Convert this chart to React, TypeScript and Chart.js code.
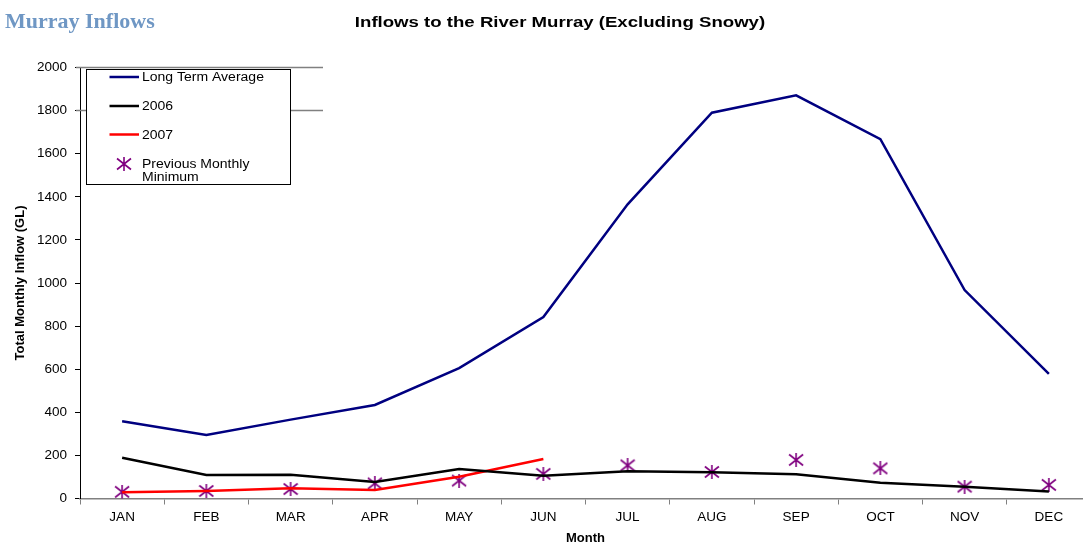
import { useEffect, useRef } from 'react';
import { Chart, registerables } from 'chart.js';

Chart.register(...registerables);

const months = ['JAN', 'FEB', 'MAR', 'APR', 'MAY', 'JUN', 'JUL', 'AUG', 'SEP', 'OCT', 'NOV', 'DEC'];
const longTermAverage = [358, 295, 366, 434, 605, 842, 1365, 1790, 1871, 1667, 967, 578];
const inflow2006 = [189, 109, 110, 77, 137, 106, 127, 122, 112, 73, 55, 33];
const inflow2007 = [29, 35, 47, 39, 101, 183, null, null, null, null, null, null];
const previousMinimum = [31, 35, 44, 70, 83, 114, 154, 123, 179, 140, 55, 63];
const partialGridValues = [2000, 1800];

const pageTitle = 'Murray Inflows';
const chartTitle = 'Inflows to the River Murray (Excluding Snowy)';
const legendLabels = ['Long Term Average', '2006', '2007', 'Previous Monthly', 'Minimum'];

const FONT = '"Liberation Sans", Arial, sans-serif';
const NAVY = '#000080';
const PURPLE = '#800080';

function makeStar(): HTMLCanvasElement {
  const c = document.createElement('canvas');
  c.width = 16;
  c.height = 14;
  const g = c.getContext('2d')!;
  g.strokeStyle = PURPLE;
  g.lineWidth = 1.6;
  g.beginPath();
  g.moveTo(8, 0);
  g.lineTo(8, 14);
  g.moveTo(1, 1.5);
  g.lineTo(15, 12.5);
  g.moveTo(1, 12.5);
  g.lineTo(15, 1.5);
  g.stroke();
  return c;
}

export default function App() {
  const ref = useRef<HTMLCanvasElement | null>(null);

  useEffect(() => {
    const canvas = ref.current;
    if (!canvas) return;
    const star = makeStar();

    const decor = {
      id: 'decor',
      beforeDatasetsDraw(chart: any) {
        const { ctx } = chart;
        const y = chart.scales.y;
        ctx.save();
        ctx.strokeStyle = '#808080';
        ctx.lineWidth = 1.5;
        for (const v of partialGridValues) {
          const py = y.getPixelForValue(v);
          ctx.beginPath();
          ctx.moveTo(76, py);
          ctx.lineTo(323, py);
          ctx.stroke();
        }
        ctx.restore();
      },
      afterDraw(chart: any) {
        const { ctx } = chart;
        ctx.save();
        // page header
        ctx.fillStyle = '#6f97c4';
        ctx.font = 'bold 22px "Liberation Serif", serif';
        ctx.textAlign = 'left';
        ctx.textBaseline = 'alphabetic';
        ctx.fillText(pageTitle, 5, 28);

        // chart title
        ctx.fillStyle = '#000';
        ctx.font = `bold 15.5px ${FONT}`;
        ctx.textAlign = 'center';
        ctx.save();
        ctx.translate(560, 27);
        ctx.scale(1.2, 1);
        ctx.fillText(chartTitle, 0, 0);
        ctx.restore();

        // legend box
        ctx.fillStyle = '#fff';
        ctx.fillRect(86.5, 69.5, 204, 115);
        ctx.strokeStyle = '#000';
        ctx.lineWidth = 1;
        ctx.strokeRect(86.5, 69.5, 204, 115);

        const lines = [
          { color: NAVY, y: 77 },
          { color: '#000', y: 106 },
          { color: '#ff0000', y: 134.5 },
        ];
        ctx.lineWidth = 2.5;
        lines.forEach((l) => {
          ctx.strokeStyle = l.color;
          ctx.beginPath();
          ctx.moveTo(109.5, l.y);
          ctx.lineTo(139, l.y);
          ctx.stroke();
        });
        ctx.drawImage(star, 124 - 8, 164 - 7);

        ctx.fillStyle = '#000';
        ctx.font = `12.5px ${FONT}`;
        ctx.textAlign = 'left';
        ctx.textBaseline = 'middle';
        const textY = [78, 107, 135.5, 165, 178];
        legendLabels.forEach((t, i) => {
          ctx.save();
          ctx.translate(142, textY[i]);
          ctx.scale(1.12, 1);
          ctx.fillText(t, 0, 0);
          ctx.restore();
        });
        ctx.restore();
      },
    };

    const chart = new Chart(canvas, {
      type: 'line',
      data: {
        labels: months,
        datasets: [
          {
            label: 'Long Term Average',
            data: longTermAverage,
            borderColor: NAVY,
            backgroundColor: NAVY,
            borderWidth: 2.5,
            pointRadius: 0,
            tension: 0,
          },
          {
            label: '2006',
            data: inflow2006,
            borderColor: '#000',
            backgroundColor: '#000',
            borderWidth: 2.5,
            pointRadius: 0,
            tension: 0,
          },
          {
            label: '2007',
            data: inflow2007,
            borderColor: '#ff0000',
            backgroundColor: '#ff0000',
            borderWidth: 2.5,
            pointRadius: 0,
            tension: 0,
          },
          {
            label: 'Previous Monthly Minimum',
            data: previousMinimum,
            showLine: false,
            borderColor: PURPLE,
            backgroundColor: PURPLE,
            pointStyle: star as any,
            pointRadius: 8,
            pointHoverRadius: 8,
          },
        ],
      },
      options: {
        animation: false,
        responsive: false,
        devicePixelRatio: 1,
        layout: { autoPadding: false, padding: { left: 0, right: 1, top: 67.5, bottom: 0 } },
        plugins: {
          legend: { display: false },
          title: { display: false },
          tooltip: { enabled: false },
        },
        scales: {
          x: {
            type: 'category',
            offset: true,
            grid: {
              display: true,
              offset: true,
              drawOnChartArea: false,
              drawTicks: true,
              tickLength: 6,
              color: '#808080',
              lineWidth: 1,
            },
            border: { display: true, color: '#808080', width: 1.5 },
            ticks: {
              color: '#000',
              font: { family: FONT, size: 13.5 },
              padding: 5,
              maxRotation: 0,
              autoSkip: false,
            },
            title: {
              display: true,
              text: 'Month',
              color: '#000',
              font: { family: FONT, size: 13, weight: 'bold' },
              padding: { top: 0, bottom: -3.5 },
            },
            afterFit(s: any) {
              s.height = 44.5;
              s.paddingLeft = 0;
              s.paddingRight = 0;
            },
          },
          y: {
            min: 0,
            max: 2000,
            grid: {
              display: true,
              drawOnChartArea: false,
              drawTicks: true,
              tickLength: 5,
              color: '#000',
              lineWidth: 1,
            },
            border: { display: true, color: '#000', width: 1 },
            ticks: {
              stepSize: 200,
              color: '#000',
              font: { family: FONT, size: 13.5 },
              padding: 8,
              callback: (v: any) => String(v),
            },
            title: {
              display: true,
              text: 'Total Monthly Inflow (GL)',
              color: '#000',
              font: { family: FONT, size: 13, weight: 'bold' },
              padding: { top: 12.2, bottom: 0 },
            },
            afterFit(s: any) {
              s.width = 80;
            },
          },
        },
      } as any,
      plugins: [decor],
    });

    return () => chart.destroy();
  }, []);

  return (
    <div
      style={{
        position: 'absolute',
        left: 0,
        top: 0,
        width: 1083,
        height: 543,
        overflow: 'hidden',
        background: '#fff',
      }}
    >
      <canvas ref={ref} width={1092} height={543} style={{ display: 'block', width: 1092, height: 543 }} />
    </div>
  );
}
